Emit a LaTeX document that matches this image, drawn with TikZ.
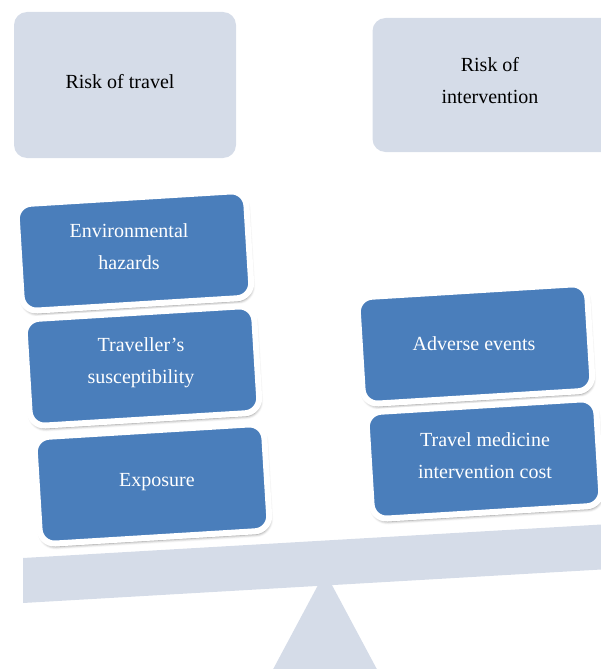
\documentclass[tikz,border=0pt]{standalone}
\usepackage{fontspec}
\setmainfont{Liberation Serif}
\usetikzlibrary{shadows.blur}
\definecolor{panel}{HTML}{D5DCE8}
\definecolor{tile}{HTML}{4A7EBB}

\begin{document}
\begin{tikzpicture}[x=1pt,y=-1pt,
  headbox/.style={fill=panel, rounded corners=13pt, inner sep=0pt},
  headtext/.style={text=black, font=\fontsize{20}{32}\selectfont, align=center},
  tilebox/.style={fill=tile, draw=white, line width=6pt, rounded corners=15pt,
    minimum width=230pt, minimum height=107pt, inner sep=0pt, rotate=3.5,
    blur shadow={shadow xshift=1pt, shadow yshift=-3pt, shadow opacity=50,
      shadow blur radius=3pt}},
  tiletext/.style={text=white, font=\fontsize{20}{32}\selectfont, align=center},
  support/.style={fill=panel}]

\useasboundingbox (0,0) rectangle (601,669);
\clip (0,0) rectangle (601,669);

% headings of the two pans
\node[headbox, minimum width=222pt, minimum height=146pt] (travelbox) at (125,85) {};
\node[headtext] (travel) at (120,82) {Risk of travel};
\node[headbox, minimum width=257pt, minimum height=134pt] (interbox) at (501,85) {};
\node[headtext] (inter) at (490,81) {Risk of\\intervention};

% fulcrum and tilted beam
\fill[support] (325,572) -- (388,690) -- (262,690) -- cycle;
\fill[support] (23,558) -- (610,524) -- (610,569) -- (23,603) -- cycle;

% weights on the left pan
\node[tilebox] (envbox) at (134,251) {};
\node[tiletext] (env) at (129,247) {Environmental\\hazards};
\node[tilebox] (susbox) at (142,366) {};
\node[tiletext] (sus) at (141,363) {Traveller’s\\susceptibility};
\node[tilebox] (expbox) at (152,484) {};
\node[tiletext] (exp) at (157,482) {Exposure};

% weights on the right pan
\node[tilebox] (advbox) at (475,344) {};
\node[tiletext] (adv) at (474,344) {Adverse events};
\node[tilebox] (costbox) at (484,459) {};
\node[tiletext] (cost) at (485,456) {Travel medicine\\intervention cost};
\end{tikzpicture}
\end{document}
